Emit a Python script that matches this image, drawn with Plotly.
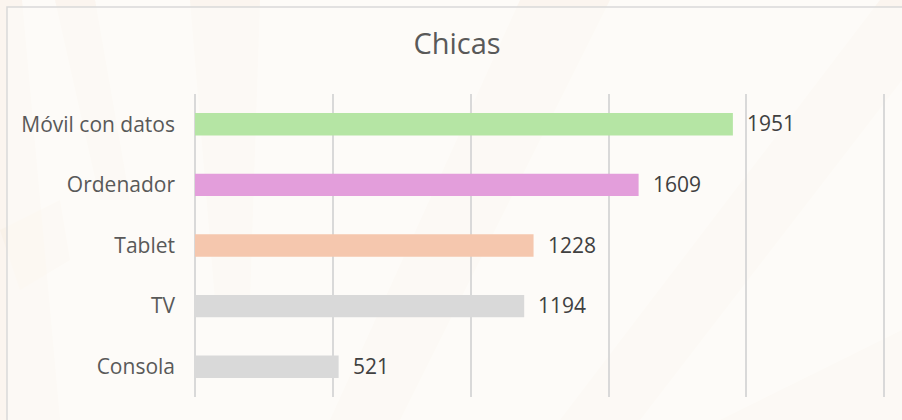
import plotly.graph_objects as go

categories = ["Móvil con datos", "Ordenador", "Tablet", "TV", "Consola"]
values = [1951, 1609, 1228, 1194, 521]
bar_colors = ["#B5E5A4", "#E39EDB", "#F5C7AE", "#D9D9D9", "#D9D9D9"]
title_text = "Chicas"

W, H = 902, 420
L, R, T, B = 195, 15, 94, 23
pw, ph = W - L - R, H - T - B

def px(x):
    return (x - L) / pw

def py(y):
    return (H - B - y) / ph

fig = go.Figure()
fig.add_trace(go.Bar(
    x=values, y=categories, orientation="h",
    marker=dict(color=bar_colors, line=dict(width=0)),
    width=0.37, hoverinfo="skip",
))

for c, v in zip(categories, values):
    fig.add_annotation(x=v, y=c, text=str(v), showarrow=False,
                       xanchor="left", xshift=12, yshift=1,
                       font=dict(family="Open Sans", size=21, color="#404040"))

shapes = []
stripe = "#F8EDE2"
polys = [
    [(0, 0), (22, 0), (60, 420), (0, 420)],
    [(55, 0), (95, 0), (130, 200), (100, 200)],
    [(190, 0), (260, 0), (250, 300), (215, 300)],
    [(520, 0), (610, 0), (400, 420), (330, 420)],
    [(880, 0), (902, 0), (902, 80), (640, 420), (560, 420)],
    [(902, 330), (902, 420), (720, 420)],
    [(0, 230), (60, 200), (70, 260), (20, 290)],
]
for poly in polys:
    path = "M " + " L ".join(f"{px(x)},{py(y)}" for x, y in poly) + " Z"
    shapes.append(dict(type="path", xref="paper", yref="paper", path=path,
                       fillcolor=stripe, opacity=0.4, line=dict(width=0), layer="below"))

# chart area panel
shapes.append(dict(type="rect", xref="paper", yref="paper",
                   x0=px(7), y0=py(430), x1=px(910), y1=py(7),
                   fillcolor="rgba(253,251,248,0.6)", line=dict(color="#D9D9D9", width=1.5),
                   layer="below"))

fig.update_layout(
    width=W, height=H,
    margin=dict(l=L, r=R, t=T, b=B, autoexpand=False),
    paper_bgcolor="#FDFBF8",
    plot_bgcolor="rgba(0,0,0,0)",
    showlegend=False,
    shapes=shapes,
    title=dict(text=title_text, x=px(457), xref="paper", xanchor="center",
               y=1 - 44 / H, yanchor="middle",
               font=dict(family="Open Sans", size=29, color="#595959")),
    xaxis=dict(range=[0, 2510], dtick=500, tick0=0, showgrid=True,
               gridcolor="#D9D9D9", gridwidth=1.7, showticklabels=False,
               zeroline=True, zerolinecolor="#D9D9D9", zerolinewidth=1.7,
               showline=False, fixedrange=True),
    yaxis=dict(categoryorder="array", categoryarray=categories,
               autorange="reversed", showgrid=False, showline=False,
               ticks="", ticklabelstandoff=19,
               tickfont=dict(family="Open Sans", size=21, color="#595959"),
               fixedrange=True),
)

fig.write_html("out.html", config={"displayModeBar": False},
               post_script="document.body.style.margin='0';document.body.style.padding='0';")
